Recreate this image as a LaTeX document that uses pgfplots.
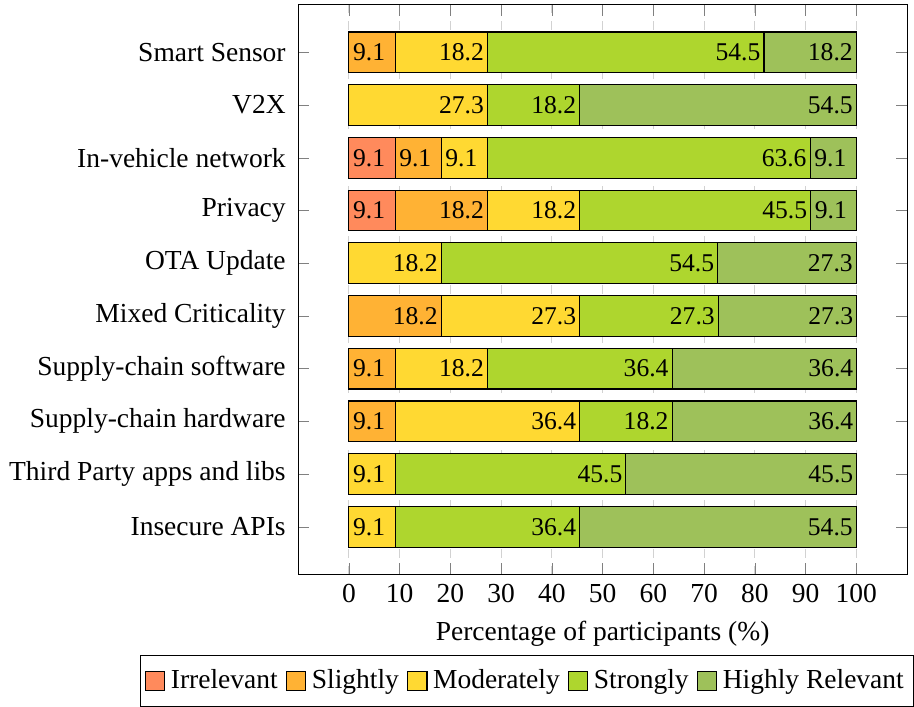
\documentclass[border=0pt]{standalone}
\usepackage{fontspec}
\setmainfont{Liberation Serif}
\usepackage{pgfplots}
\pgfplotsset{compat=1.18}
\definecolor{cIrr}{RGB}{255,138,92}
\definecolor{cSli}{RGB}{255,178,52}
\definecolor{cMod}{RGB}{255,217,50}
\definecolor{cStr}{RGB}{174,214,46}
\definecolor{cHig}{RGB}{158,193,90}
\begin{document}
\begin{tikzpicture}
\begin{axis}[
  xbar stacked,
  scale only axis,
  width=221.4pt, height=207pt,
  bar width=14.8pt,
  xmin=-10, xmax=110, ymin=-0.9, ymax=9.9,
  xtick={0,10,...,100},
  ytick={0,...,9},
  yticklabels={Insecure APIs, Third Party apps and libs, Supply-chain hardware, Supply-chain software, Mixed Criticality, OTA Update, Privacy, In-vehicle network, V2X, Smart Sensor},
  yticklabel style={xshift=-1pt},
  xlabel={Percentage of participants (\%)},
  /pgf/number format/assume math mode=true,
  xmajorgrids, grid style={dashed, gray!35},
  major tick style={gray}, major tick length=4pt,
  point meta=rawx,
  visualization depends on=rawx \as \rawxval,
  nodes near coords={\pgfmathfloatifflags{\pgfplotspointmeta}{0}{}{\pgfmathprintnumber{\pgfplotspointmeta}}},
  every node near coord/.append style={anchor=east, minimum width=18.5pt, inner sep=0pt, text=black,
    font=\fontsize{9.3}{11}\selectfont, xshift={0.9225pt*\rawxval}},
  legend style={at={(1.0114,-0.142)}, anchor=north east, legend columns=-1, draw=black, inner xsep=1.5pt, inner ysep=3pt,
    /tikz/every even column/.append style={column sep=1pt}},
  legend image code/.code={\draw[#1,draw=black] (0pt,-3.5pt) rectangle (7pt,3.5pt);},
]
% order: y=0 Insecure APIs ... y=9 Smart Sensor
\addplot[fill=cIrr, draw=black] coordinates {(0,0) (0,1) (0,2) (0,3) (0,4) (0,5) (9.1,6) (9.1,7) (0,8) (0,9)};
\addplot[fill=cSli, draw=black] coordinates {(0,0) (0,1) (9.1,2) (9.1,3) (18.2,4) (0,5) (18.2,6) (9.1,7) (0,8) (9.1,9)};
\addplot[fill=cMod, draw=black] coordinates {(9.1,0) (9.1,1) (36.4,2) (18.2,3) (27.3,4) (18.2,5) (18.2,6) (9.1,7) (27.3,8) (18.2,9)};
\addplot[fill=cStr, draw=black] coordinates {(36.4,0) (45.5,1) (18.2,2) (36.4,3) (27.3,4) (54.5,5) (45.5,6) (63.6,7) (18.2,8) (54.5,9)};
\addplot[fill=cHig, draw=black] coordinates {(54.5,0) (45.5,1) (36.4,2) (36.4,3) (27.3,4) (27.3,5) (9.1,6) (9.1,7) (54.5,8) (18.2,9)};
\legend{Irrelevant, Slightly, Moderately, Strongly, Highly Relevant}
\end{axis}
\path (current axis.north) ++(0,1.8pt) coordinate (topspace);
\end{tikzpicture}
\end{document}
